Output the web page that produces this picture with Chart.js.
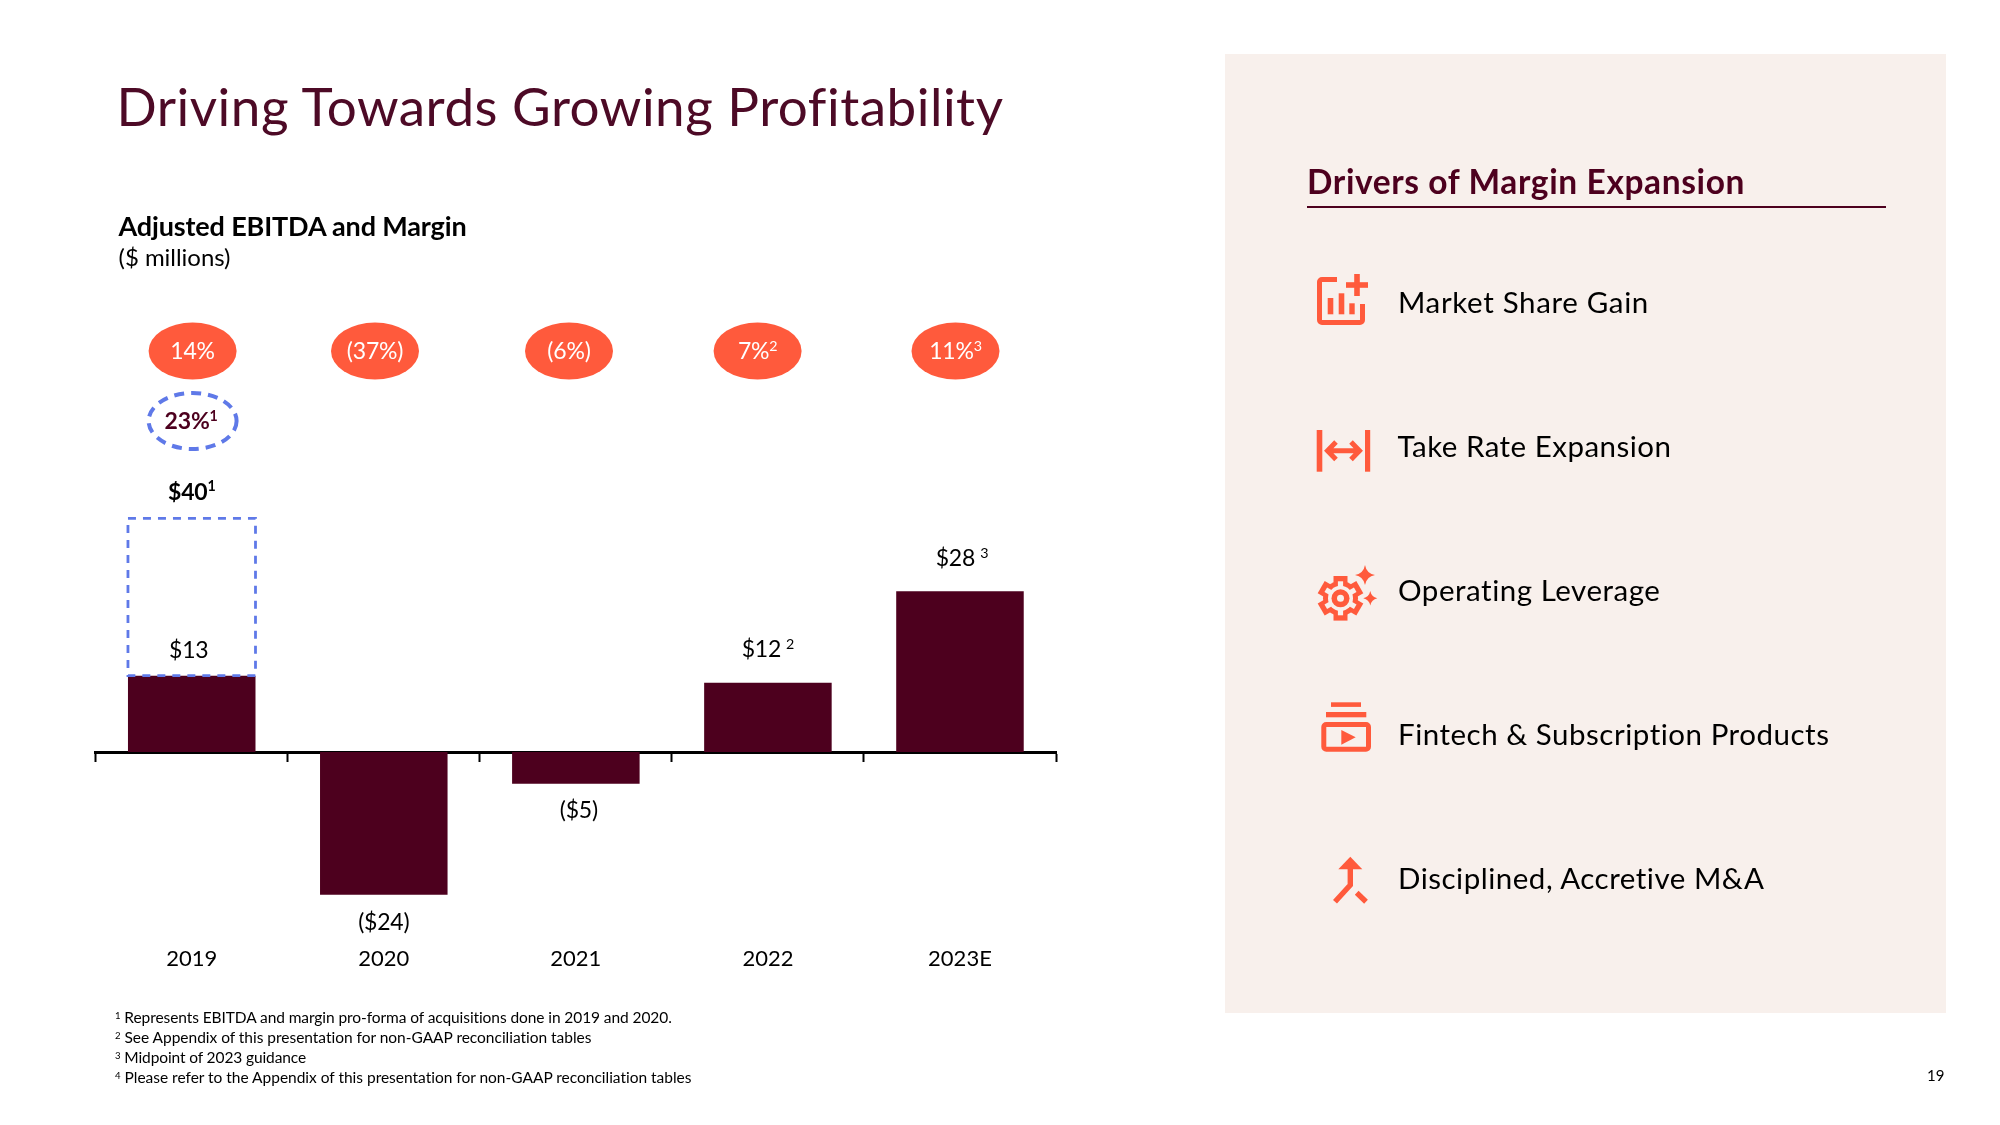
<!DOCTYPE html>
<html><head><meta charset="utf-8">
<script src="https://cdn.jsdelivr.net/npm/chart.js@4/dist/chart.umd.min.js"></script>
<style>
html,body{margin:0;padding:0;background:#fff;width:2000px;height:1125px;overflow:hidden;font-family:Lato,sans-serif;color:#000}
#c{position:absolute;left:0;top:0}
.t{position:absolute;white-space:nowrap;line-height:1}
#panel{position:absolute;left:1225px;top:54px;width:721px;height:959px;background:#f8f0ec}
#rule{position:absolute;left:1307px;top:205.5px;width:579px;height:2px;background:#4d001e}
svg{position:absolute;left:0;top:0}
sup{font-size:.62em;line-height:0;vertical-align:baseline;position:relative;top:-.42em}
</style></head><body>
<div id="panel"></div><div id="rule"></div>
<canvas id="c" width="2000" height="1125"></canvas>
<svg width="2000" height="1125" viewBox="0 0 2000 1125" fill="#ff5a3c" stroke="none">
 <!-- market share -->
 <path d="M1337 279.5H1322a2.5 2.5 0 0 0-2.5 2.5V320a2.5 2.5 0 0 0 2.5 2.5H1360a2.5 2.5 0 0 0 2.5-2.5V304" fill="none" stroke="#ff5a3c" stroke-width="5"/>
 <rect x="1327.7" y="298" width="5.6" height="16.3"/><rect x="1338.7" y="293.3" width="5.6" height="21"/><rect x="1349.3" y="303.3" width="5.4" height="11"/>
 <rect x="1346" y="282.2" width="22" height="5.6"/><rect x="1354.2" y="274" width="5.6" height="22"/>
 <!-- take rate -->
 <rect x="1316.7" y="430" width="5.6" height="41.7"/><rect x="1365" y="430" width="5.2" height="41.7"/>
 <path d="M1329 450.7H1358M1336 442L1327.5 450.7L1336 459.5M1351 442L1359.5 450.7L1351 459.5" fill="none" stroke="#ff5a3c" stroke-width="5"/>
 <!-- gear -->
 <g transform="translate(1340.5 598.3)">
  <circle r="17.5"/>
  <rect x="-7" y="-22.3" width="14" height="8"/>
  <rect x="-7" y="-22.3" width="14" height="8" transform="rotate(60)"/>
  <rect x="-7" y="-22.3" width="14" height="8" transform="rotate(120)"/>
  <rect x="-7" y="-22.3" width="14" height="8" transform="rotate(180)"/>
  <rect x="-7" y="-22.3" width="14" height="8" transform="rotate(240)"/>
  <rect x="-7" y="-22.3" width="14" height="8" transform="rotate(300)"/>
  <g fill="#f8f0ec">
  <circle r="12.5"/>
  <rect x="-2.6" y="-17" width="5.2" height="6"/>
  <rect x="-2.6" y="-17" width="5.2" height="6" transform="rotate(60)"/>
  <rect x="-2.6" y="-17" width="5.2" height="6" transform="rotate(120)"/>
  <rect x="-2.6" y="-17" width="5.2" height="6" transform="rotate(180)"/>
  <rect x="-2.6" y="-17" width="5.2" height="6" transform="rotate(240)"/>
  <rect x="-2.6" y="-17" width="5.2" height="6" transform="rotate(300)"/>
  </g>
  <circle r="9"/><circle r="3.5" fill="#f8f0ec"/>
 </g>
 <path d="M1365 565Q1366.5 573.5 1375 575Q1366.5 576.5 1365 585Q1363.5 576.5 1355 575Q1363.5 573.5 1365 565Z"/>
 <path d="M1370.3 591Q1371.5 597 1377.3 598.3Q1371.5 599.6 1370.3 605.5Q1369 599.6 1363.3 598.3Q1369 597 1370.3 591Z"/>
 <!-- fintech -->
 <rect x="1331" y="702.3" width="30" height="4.6"/><rect x="1326" y="712" width="40.3" height="5.3"/>
 <rect x="1323.8" y="724.5" width="44.7" height="24.7" rx="2.5" fill="none" stroke="#ff5a3c" stroke-width="5"/>
 <path d="M1341.3 730L1355.7 737.3L1341.3 744.7Z"/>
 <!-- m&a -->
 <path d="M1338.3 869.3H1362.3L1350.3 856.7Z"/>
 <path d="M1350.3 868V885L1335 901.7M1356.7 892.7L1366 901.7" fill="none" stroke="#ff5a3c" stroke-width="5.4"/>
</svg>
<div class="t" data-w="886" style="left:116.5px;top:78.5px;font-size:53px;color:#4d0a26">Driving Towards Growing Profitability</div>
<div class="t" data-w="348" style="left:118.5px;top:211.5px;font-size:27px;font-weight:700">Adjusted EBITDA and Margin</div>
<div class="t" data-w="112" style="left:118.5px;top:245px;font-size:24px">($ millions)</div>
<div class="t" data-w="438" style="left:1307px;top:165px;font-size:33.5px;font-weight:700;color:#4d001e">Drivers of Margin Expansion</div>
<div class="t" data-w="251" style="left:1398px;top:287px;font-size:29.5px">Market Share Gain</div>
<div class="t" data-w="274" style="left:1397.5px;top:431px;font-size:29.5px">Take Rate Expansion</div>
<div class="t" data-w="263" style="left:1398px;top:575px;font-size:29.5px">Operating Leverage</div>
<div class="t" data-w="432" style="left:1398px;top:719px;font-size:29.5px">Fintech &amp; Subscription Products</div>
<div class="t" data-w="367" style="left:1398px;top:863px;font-size:29.5px">Disciplined, Accretive M&amp;A</div>
<div class="t" data-w="557" style="left:115px;top:1010px;font-size:15.5px"><sup>1</sup> Represents EBITDA and margin pro-forma of acquisitions done in 2019 and 2020.</div>
<div class="t" data-w="477" style="left:115px;top:1030px;font-size:15.5px"><sup>2</sup> See Appendix of this presentation for non-GAAP reconciliation tables</div>
<div class="t" data-w="191" style="left:115px;top:1050px;font-size:15.5px"><sup>3</sup> Midpoint of 2023 guidance</div>
<div class="t" data-w="577" style="left:115px;top:1070px;font-size:15.5px"><sup>4</sup> Please refer to the Appendix of this presentation for non-GAAP reconciliation tables</div>
<div class="t" style="left:1927px;top:1068px;font-size:15px">19</div>
<script>
const categories = ['2019','2020','2021','2022','2023E'];
const ebitda = [13,-24.3,-5.4,11.8,27.4];
const proFormaRange = [[13,39.8],null,null,null,null];
const valueLabels = ['$13','($24)','($5)','$12','$28'];
const valueSups = ['','','','2','3'];
const marginLabels = ['14%','(37%)','(6%)','7%','11%'];
const marginSups = ['','','','2','3'];
const proFormaValueLabel = '$40', proFormaMarginLabel = '23%', proFormaSup = '1';

// layout only
const MAROON='#4d001e', CORAL='#ff5a3c', BLUE='#5f79e8';
const labelOffset = [[-3,-26],[0,27],[3,26],[0,-34],[2,-33]];
const pillX = [192.6,375,569,757.6,955.5], pillY = 351, pillW = 88, pillH = 57;

// fit HTML text widths
document.querySelectorAll('[data-w]').forEach(el=>{
  const n=el.textContent.length, w=el.getBoundingClientRect().width, target=+el.dataset.w;
  el.style.letterSpacing=((target-w)/n)+'px';
});

function richText(ctx,text,sup,cx,cy,size,weight,color,gap,ls){
  ctx.save();
  ctx.textBaseline='alphabetic';ctx.textAlign='left';ctx.fillStyle=color;
  ctx.letterSpacing=(ls||0)+'px';
  const fmain=`${weight} ${size}px Lato`, fsup=`${weight} ${size*0.62}px Lato`;
  ctx.font=fmain;const w=ctx.measureText(text).width;
  ctx.font=fsup;const sw=sup?ctx.measureText(sup).width+(gap||0):0;
  const x=cx-(w+sw)/2, base=cy+size*0.36;
  ctx.font=fmain;ctx.fillText(text,x,base);
  if(sup){ctx.font=fsup;ctx.fillText(sup,x+w+(gap||0),base-size*0.36);}
  ctx.restore();
}

const annotate={id:'annotate',
 afterDatasetsDraw(chart){
  const ctx=chart.ctx;
  const bars=chart.getDatasetMeta(0).data, pf=chart.getDatasetMeta(1).data[0];
  // dashed pro-forma box
  ctx.save();
  ctx.strokeStyle=BLUE;ctx.lineWidth=2.8;ctx.setLineDash([8,7]);
  ctx.strokeRect(pf.x-pf.width/2,pf.y,pf.width,pf.base-pf.y);
  ctx.restore();
  // value labels
  bars.forEach((b,i)=>{
    const [dx,dy]=labelOffset[i];
    richText(ctx,valueLabels[i],valueSups[i],b.x+dx,b.y+dy,23,400,'#000',5,-0.2);
  });
  richText(ctx,proFormaValueLabel,proFormaSup,pf.x,pf.y-27,23,700,'#000',0,-0.2);
  // margin ellipses
  marginLabels.forEach((m,i)=>{
    ctx.save();ctx.fillStyle=CORAL;ctx.beginPath();
    ctx.ellipse(pillX[i],pillY,pillW/2,pillH/2,0,0,Math.PI*2);ctx.fill();ctx.restore();
    richText(ctx,m,marginSups[i],pillX[i],pillY,23,400,'#fff',0,-0.2);
  });
  ctx.save();ctx.strokeStyle=BLUE;ctx.lineWidth=4;ctx.setLineDash([10,7]);ctx.beginPath();
  ctx.ellipse(pillX[0],421,44,28,0,0,Math.PI*2);ctx.stroke();ctx.restore();
  richText(ctx,proFormaMarginLabel,proFormaSup,pillX[0]-1.5,421,23,700,MAROON,0,-0.2);
 }};

new Chart(document.getElementById('c'),{
 type:'bar',
 data:{labels:categories,datasets:[
  {data:ebitda,backgroundColor:MAROON,borderWidth:0,barPercentage:.664,categoryPercentage:1,grouped:false,order:2},
  {data:proFormaRange,backgroundColor:'rgba(0,0,0,0)',borderWidth:0,barPercentage:.664,categoryPercentage:1,grouped:false,order:1}
 ]},
 options:{
  responsive:false,animation:false,devicePixelRatio:1,
  layout:{padding:{left:95.7,right:944,top:399.8,bottom:136.9}},
  plugins:{legend:{display:false},title:{display:false},tooltip:{enabled:false}},
  scales:{
   x:{type:'category',position:'bottom',offset:true,
      border:{display:false},grid:{display:false},
      ticks:{color:'#000',font:{family:'Lato',size:22},padding:10,maxRotation:0},
      afterFit(s){s.height=60;}},
   x2:{type:'category',labels:categories,position:{y:0},offset:true,z:1,
      border:{display:true,color:'#000',width:3},
      grid:{display:true,offset:true,drawOnChartArea:false,drawTicks:true,tickLength:8,tickWidth:2,tickColor:'#000'},
      ticks:{display:false},
      afterFit(s){s.height=0;}},
   y:{display:false,min:-30,max:60}
  }
 },
 plugins:[annotate]
});
</script>
</body></html>
